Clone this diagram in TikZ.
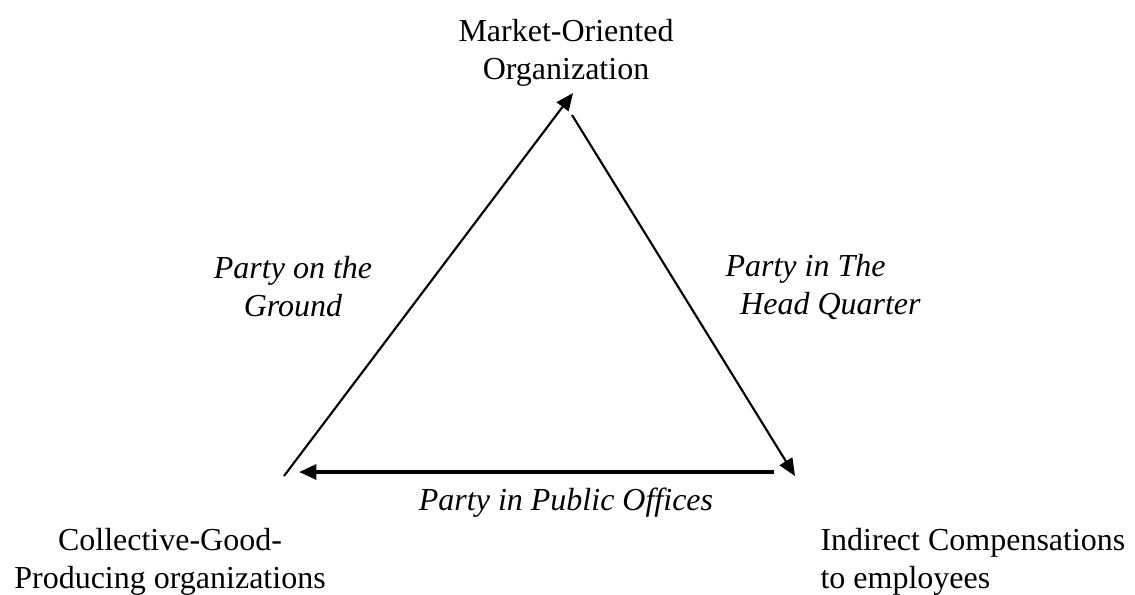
\documentclass[tikz,border=0pt]{standalone}
\usepackage{fontspec}
\setmainfont{Liberation Serif}
\usetikzlibrary{arrows.meta}
\begin{document}
\begin{tikzpicture}[x=0.375pt,y=-0.375pt]

        % Styles
        \tikzstyle{corner text}=[align=center,inner sep=0pt,font=\fontsize{12}{14.25}\selectfont]
        \tikzstyle{side text}=[corner text,font=\fontsize{12}{14.25}\selectfont\itshape]
        \tikzstyle{thin arrow}=[-{Triangle[length=6.5pt,width=5.5pt]},line width=0.8pt]
        \tikzstyle{thick arrow}=[thin arrow,line width=1.4pt]
        %The graphic
        \useasboundingbox (0,0) rectangle (1135,594);
        %corners
        \node[corner text] (market) at (566,53) {Market-Oriented\\Organization};
        \node[corner text] (collective) at (170,562) {Collective-Good-\\Producing organizations};
        \node[corner text,align=left,anchor=west] (indirect) at (820,562) {Indirect Compensations\\to employees};
        %arrow ends
        \coordinate (top in) at (573,93);
        \coordinate (top out) at (572,115);
        \coordinate (left out) at (284,476);
        \coordinate (left in) at (299,472);
        \coordinate (right in) at (795,476);
        \coordinate (right out) at (774,472);
        \draw[thin arrow] (left out) -- (top in);
        \draw[thin arrow] (top out) -- (right in);
        \draw[thick arrow] (right out) -- (left in);
        %sides
        \node[side text] (ground) at (293,287) {Party on the\\Ground};
        \node[side text,align=left,anchor=west] (headquarter) at (725,287) {Party in The\\\hspace*{5.5pt}Head Quarter};
        \node[side text] (offices) at (566,503) {Party in Public Offices};
\end{tikzpicture}
\end{document}
